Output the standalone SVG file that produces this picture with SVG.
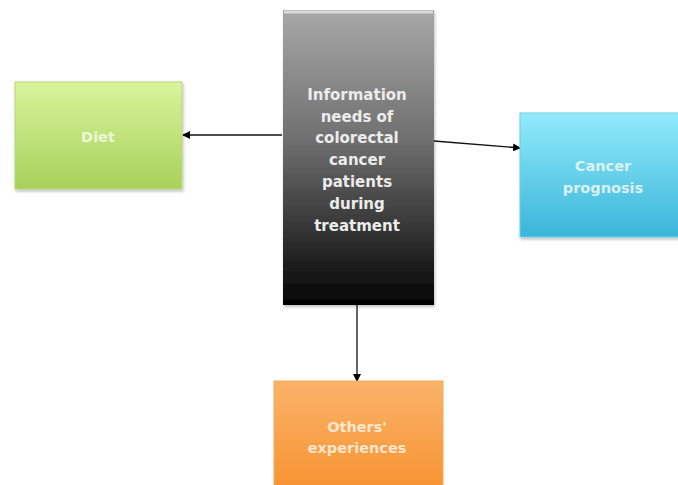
<svg xmlns="http://www.w3.org/2000/svg" width="678" height="485" viewBox="0 0 678 485">
<defs>
<linearGradient id="gC" x1="0" y1="0" x2="0" y2="1"><stop offset="0" stop-color="#a8a8a8"/><stop offset="0.45" stop-color="#6e6e6e"/><stop offset="1" stop-color="#030303"/></linearGradient>
<linearGradient id="gD" x1="0" y1="0" x2="0" y2="1"><stop offset="0" stop-color="#d8f59c"/><stop offset="1" stop-color="#a8d15a"/></linearGradient>
<linearGradient id="gP" x1="0" y1="0" x2="0" y2="1"><stop offset="0" stop-color="#92ebfc"/><stop offset="1" stop-color="#3ab5da"/></linearGradient>
<linearGradient id="gO" x1="0" y1="0" x2="0" y2="1"><stop offset="0" stop-color="#fab36a"/><stop offset="1" stop-color="#f79331"/></linearGradient>
<marker id="arr" markerWidth="8" markerHeight="8" refX="7" refY="4" orient="auto" markerUnits="userSpaceOnUse"><path d="M0,0 L8,4 L0,8 z" fill="#000"/></marker>
<filter id="sh" x="-10%" y="-10%" width="120%" height="120%"><feDropShadow dx="1" dy="2" stdDeviation="1.5" flood-color="#000" flood-opacity="0.25"/></filter>
</defs>
<style>
.t{font-family:"DejaVu Sans",Verdana,sans-serif;font-weight:bold;font-size:15px;fill:#ececec;text-anchor:middle}
.s{font-family:"DejaVu Sans",Verdana,sans-serif;font-weight:bold;font-size:14.5px;fill:#fbfbf0;fill-opacity:0.8;text-anchor:middle}
.c{stroke:#111;stroke-width:1.3;fill:none;marker-end:url(#arr)}
</style>
<rect width="678" height="485" fill="#fff"/>
<g id="connectors">
<line class="c" x1="282" y1="135" x2="183" y2="135"/>
<line class="c" x1="434" y1="141" x2="520" y2="148"/>
<line class="c" x1="357" y1="305" x2="357" y2="381"/>
</g>
<g id="center">
<rect x="283" y="10" width="151" height="295" fill="url(#gC)" filter="url(#sh)"/>
<rect x="284" y="10.5" width="149" height="3" fill="#fff" fill-opacity="0.6"/>
<text class="t" x="357" y="100">Information</text>
<text class="t" x="357" y="122">needs of</text>
<text class="t" x="357" y="143">colorectal</text>
<text class="t" x="357" y="165">cancer</text>
<text class="t" x="357" y="187">patients</text>
<text class="t" x="357" y="209">during</text>
<text class="t" x="357" y="231">treatment</text>
</g>
<g id="diet">
<rect x="15" y="82" width="167" height="107" fill="url(#gD)" stroke="#b5d87a" stroke-width="1" filter="url(#sh)"/>
<text class="s" x="98" y="142">Diet</text>
</g>
<g id="prognosis">
<rect x="520" y="113" width="162" height="124" fill="url(#gP)" stroke="#6fcde8" stroke-width="1" filter="url(#sh)"/>
<text class="s" x="603" y="171">Cancer</text>
<text class="s" x="603" y="193">prognosis</text>
</g>
<g id="others">
<rect x="274" y="381" width="169" height="110" fill="url(#gO)" stroke="#f5a858" stroke-width="1"/>
<text class="s" x="357" y="432">Others'</text>
<text class="s" x="357" y="453">experiences</text>
</g>
</svg>
